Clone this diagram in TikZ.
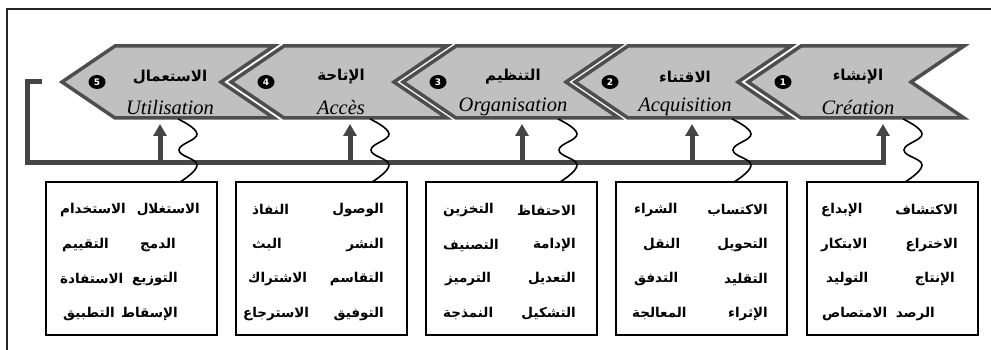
\documentclass[tikz,border=0pt]{standalone}
\usepackage{fontspec}
\setmainfont{Liberation Serif}
\newfontfamily\arabicfont[Script=Arabic]{DejaVu Sans}
\newfontfamily\numfont{DejaVu Sans}
\TeXXeTstate=1
\usetikzlibrary{arrows.meta,calc,shapes.geometric}
\definecolor{chevfill}{HTML}{C0C0C0}
\definecolor{chevline}{HTML}{4E4E4E}
\definecolor{busline}{HTML}{454545}
\tikzset{
  frameline/.style={draw=black!85,line width=1.5pt},
  chev/.style={fill=chevfill,draw=chevline,line width=3.5pt,line join=miter},
  artitle/.style={font=\arabicfont\bfseries\fontsize{15}{17}\selectfont,inner sep=0pt},
  latitle/.style={font=\itshape\fontsize{20.5}{22}\selectfont,inner sep=0pt},
  numdot/.style={ellipse,fill=black,minimum width=17pt,minimum height=14pt,inner sep=0pt,
    text=white,font=\numfont\bfseries\fontsize{9}{10}\selectfont},
  bus/.style={draw=busline,line width=5pt,line join=miter},
  busarrow/.style={bus,-{Triangle[width=13pt,length=12pt]}},
  wave/.style={draw=black,line width=1.6pt},
  listbox/.style={draw=black,line width=1.2pt,minimum width=171pt,minimum height=153pt,inner sep=0pt},
  word/.style={font=\arabicfont\bfseries\fontsize{13.5}{16}\selectfont,inner sep=0pt}
}
\newcommand\mywrow[6]{%
  \node[word,anchor=east] (#1r) at (#5,#2) {\beginR #3\endR};
  \node[word,anchor=west] (#1l) at (#6,#2) {\beginR #4\endR};}
\begin{document}
\begin{tikzpicture}[x=1pt,y=-1pt]
\useasboundingbox (0,0) rectangle (991,350);
\fill[white] (0,0) rectangle (991,350);
% frame
\coordinate (fbl) at (7,350);
\coordinate (ftl) at (7,9);
\coordinate (ftr) at (991,9);
\draw[frameline] (fbl) -- (ftl) -- (ftr);

% feedback bus
\coordinate (fbs) at (42,82);
\coordinate (fbc1) at (27,82);
\coordinate (fbc2) at (27,163);
\coordinate (bus1) at (883,163);
\coordinate (in1) at (883,124);
\draw[busarrow] (fbs) -- (fbc1) -- (fbc2) -- (bus1) -- (in1);
\foreach \x/\i in {160/5,350/4,522/3,692/2}{
  \coordinate (bus\i) at (\x,163);
  \coordinate (in\i) at (\x,124);
  \draw[busarrow] (bus\i) -- (in\i);
}

% chevrons
\foreach \i/\T/\R/\ar/\la in {5/62/274/الاستعمال/Utilisation,
                              4/231/447/الإتاحة/Accès,
                              3/403/619/التنظيم/Organisation,
                              2/575/791/الاقتناء/Acquisition,
                              1/748/964/الإنشاء/Création}{
  \draw[chev] (\T,82) -- (\T+53,46) -- (\R,46) -- (\R-53,82) -- (\R,118) -- (\T+53,118) -- cycle;
  \node[numdot] (num\i) at (\T+35,82) {\i};
  \node[artitle] (ar\i) at ({(\T+\R)/2+2},77) {\beginR\ar\endR};
  \node[latitle] (la\i) at ({(\T+\R)/2+2},107) {\la};
}

% boxes
\foreach \i/\cx in {5/131.5,4/321.5,3/511.5,2/701.5,1/892.5}{
  \node[listbox] (box\i) at (\cx,258.5) {};
}

% squiggles
\foreach \i/\s in {5/178,4/370,3/558,2/732,1/903}{
  \coordinate (sqa\i) at (\s,119);
  \coordinate (sqb\i) at (\s+2,182);
  \draw[wave] plot[smooth,tension=0.75] coordinates {(sqa\i) (\s+19,134) (\s+1,150) (\s+19,165) (sqb\i)};
}

% box 5
\mywrow{w5a}{210}{الاستغلال}{الاستخدام}{200}{60}
\mywrow{w5b}{245}{الدمج}{التقييم}{176}{62}
\mywrow{w5c}{279}{التوزيع}{الاستفادة}{178}{60}
\mywrow{w5d}{314}{الإسقاط}{التطبيق}{178}{63}
% box 4
\mywrow{w4a}{210}{الوصول}{النفاذ}{384}{252}
\mywrow{w4b}{245}{النشر}{البث}{384}{252}
\mywrow{w4c}{279}{التقاسم}{الاشتراك}{384}{248}
\mywrow{w4d}{314}{التوفيق}{الاسترجاع}{384}{243}
% box 3
\mywrow{w3a}{210}{الاحتفاظ}{التخزين}{576}{443}
\mywrow{w3b}{245}{الإدامة}{التصنيف}{576}{443}
\mywrow{w3c}{279}{التعديل}{الترميز}{576}{445}
\mywrow{w3d}{314}{التشكيل}{النمذجة}{576}{443}
% box 2
\mywrow{w2a}{210}{الاكتساب}{الشراء}{768}{634}
\mywrow{w2b}{245}{التحويل}{النقل}{768}{643}
\mywrow{w2c}{279}{التقليد}{التدفق}{768}{634}
\mywrow{w2d}{314}{الإثراء}{المعالجة}{768}{632}
% box 1
\mywrow{w1a}{210}{الاكتشاف}{الإبداع}{958}{821}
\mywrow{w1b}{245}{الاختراع}{الابتكار}{958}{821}
\mywrow{w1c}{279}{الإنتاج}{التوليد}{955}{826}
\mywrow{w1d}{314}{الرصد}{الامتصاص}{935}{822}
\end{tikzpicture}
\end{document}
